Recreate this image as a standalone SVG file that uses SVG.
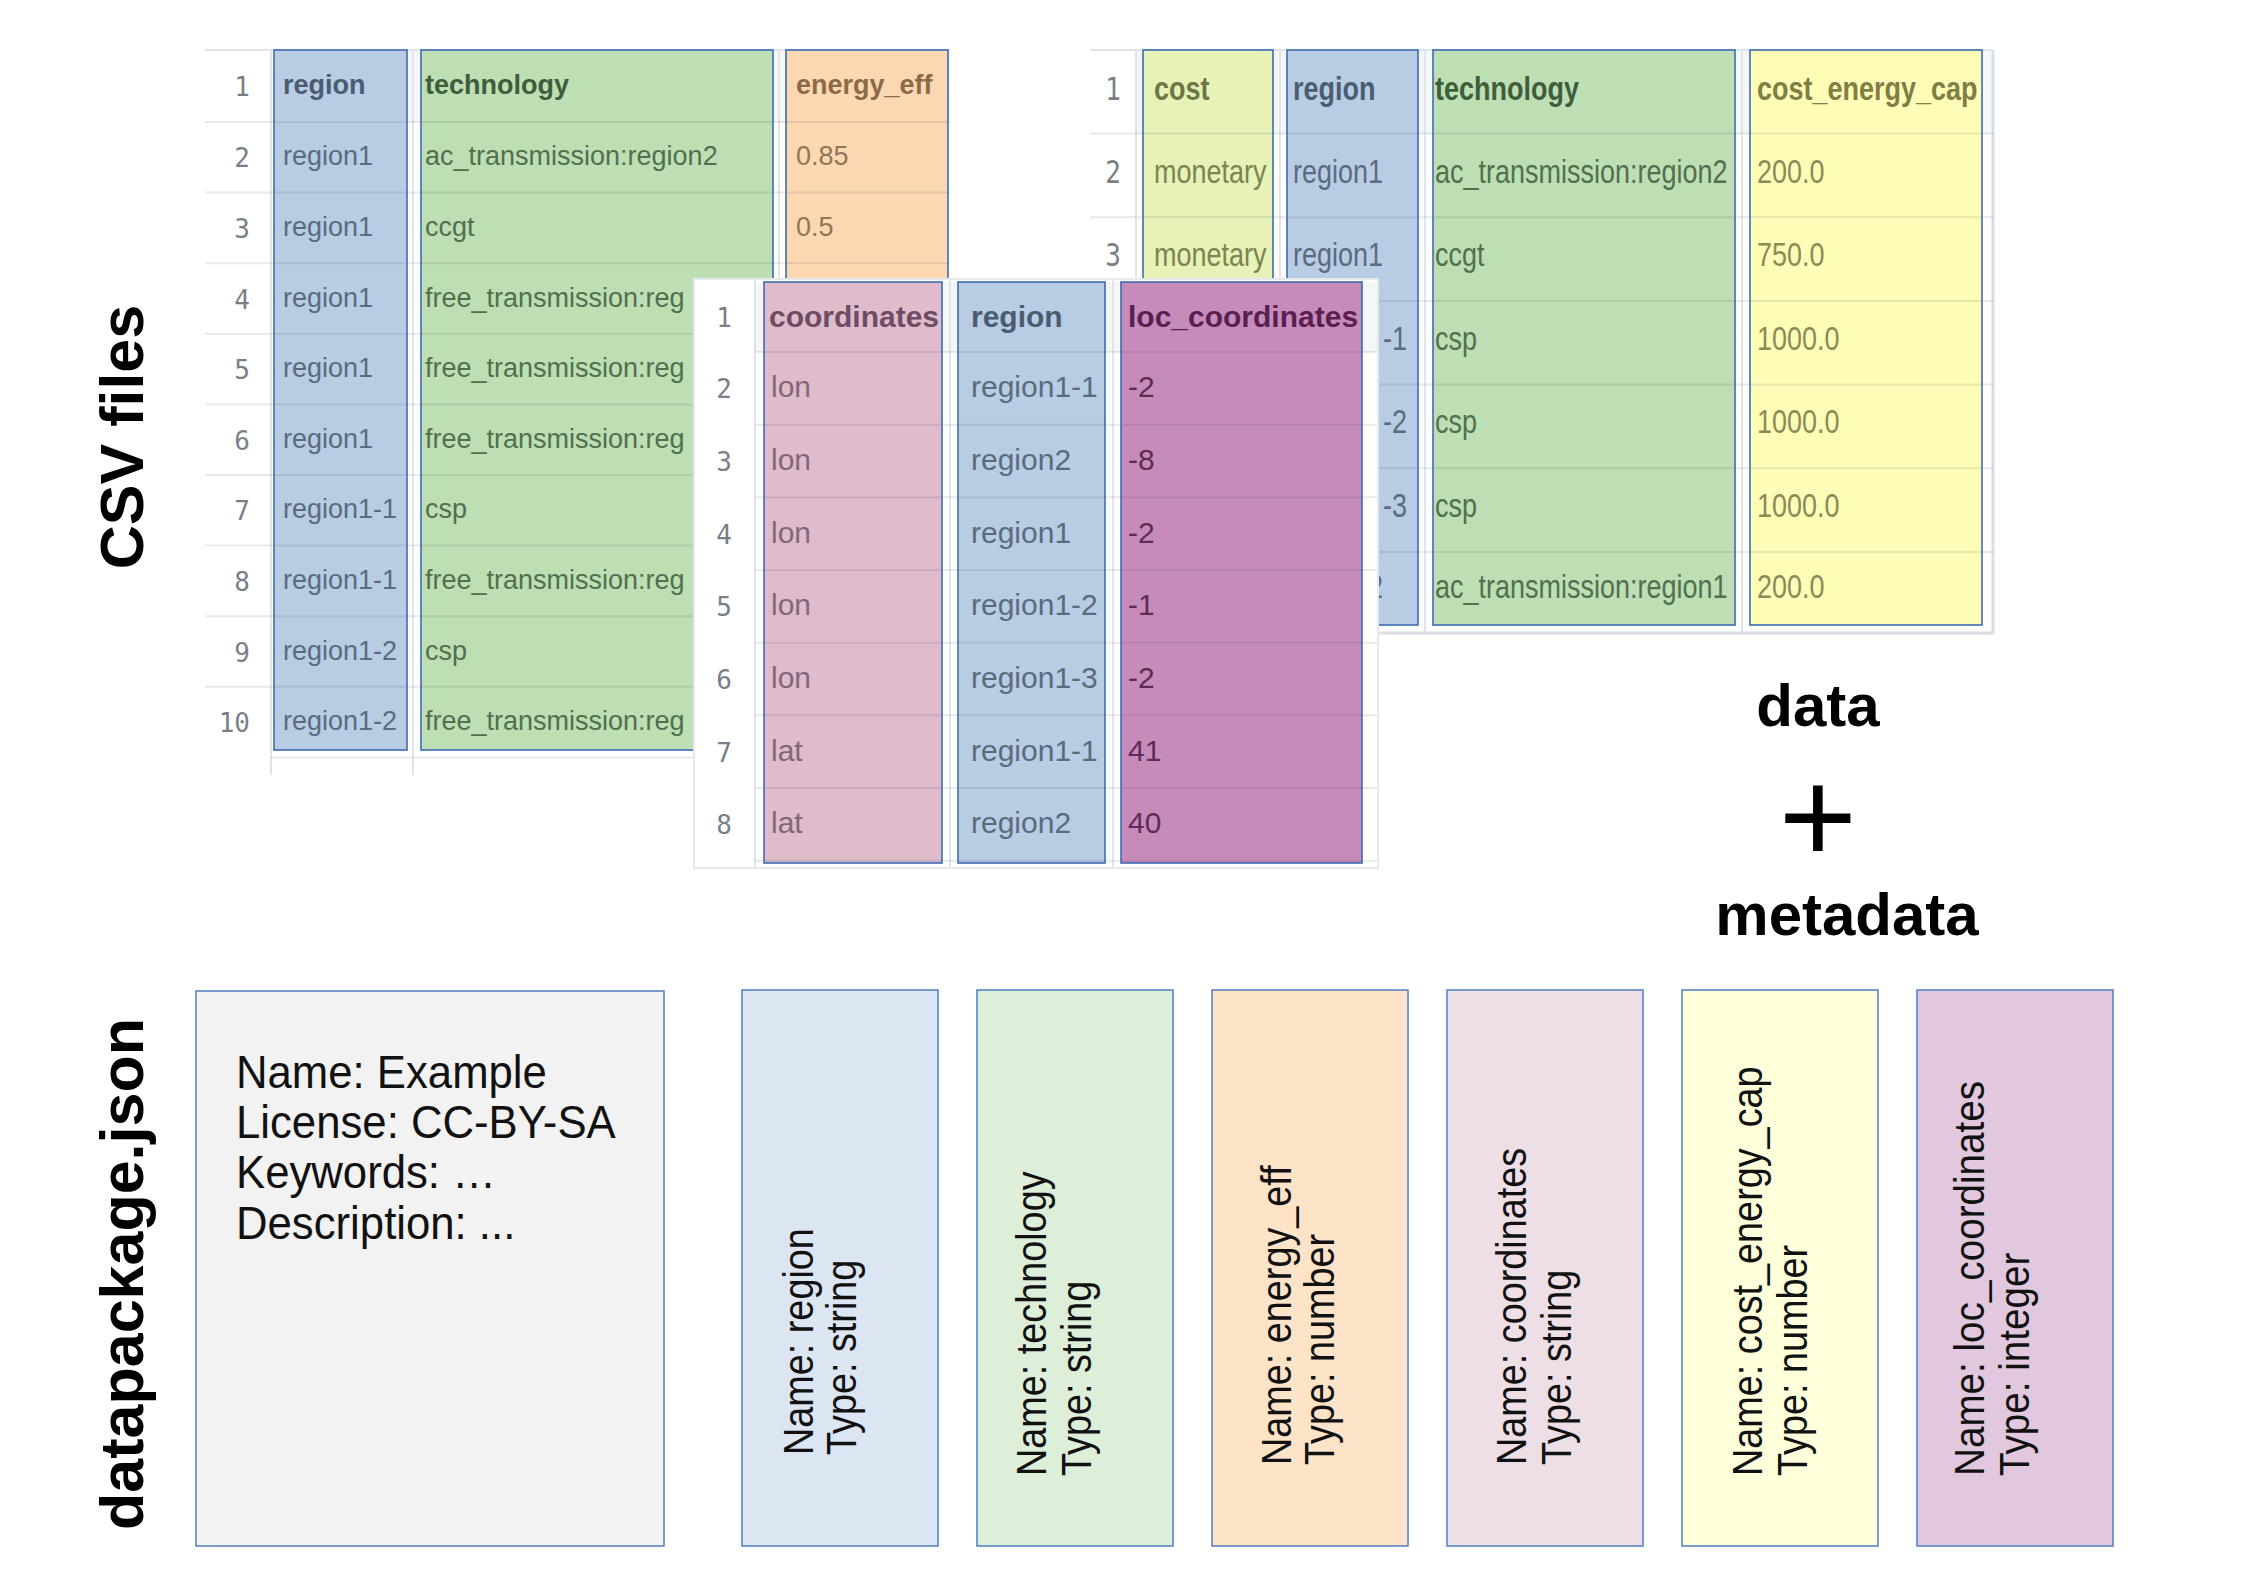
<svg xmlns="http://www.w3.org/2000/svg" width="2245" height="1588" viewBox="0 0 2245 1588">
<style>
.t{font-family:"Liberation Sans",Arial,sans-serif;font-size:27px}
.tc{font-family:"Liberation Sans",Arial,sans-serif;font-size:30px}
.h{font-weight:bold}
.num{font-family:"DejaVu Sans Mono",monospace;font-size:26px;fill:#7a7f87;text-anchor:end}
.grid{stroke:#e1e5ea;stroke-width:2;fill:none}
.border{stroke:#d9dee5;stroke-width:3;fill:none}
.rowl{stroke:#3c465a;stroke-opacity:0.12;stroke-width:2}
.colb{fill:none;stroke:#3d6bb3;stroke-width:1.6}
.hbg{fill:#f5f6f8}
.cBlue{fill:#b8cce4}.cGreen{fill:#bddfb3}.cOrange{fill:#fcd8b2}.cLime{fill:#e6f2b6}.cYellow{fill:#fefdb8}.cPink{fill:#dfbccc}.cPurple{fill:#c78bba}
.xBlue{fill:#5a6b80}.xBlueH{fill:#4b5c72}
.xGreen{fill:#527050}.xGreenH{fill:#3f5d3d}
.xOrange{fill:#8f7658}.xOrangeH{fill:#8c6a48}
.xLime{fill:#7c8450}.xLimeH{fill:#6f7645}
.xYellow{fill:#8c8a55}.xYellowH{fill:#807d45}
.xPink{fill:#83667a}.xPinkH{fill:#6e4c64}
.xPurple{fill:#5e2b58}.xPurpleH{fill:#5a1f52}
.label{font-family:"Liberation Sans",Arial,sans-serif;font-weight:bold;font-size:61px;fill:#000}
.big{font-family:"Liberation Sans",Arial,sans-serif;font-weight:bold;font-size:60px;fill:#000;text-anchor:middle}
.meta{font-family:"Liberation Sans",Arial,sans-serif;font-size:47px;fill:#111}
.fbox{stroke:#5b84c4;stroke-width:1.6}
.ftxt{font-family:"Liberation Sans",Arial,sans-serif;font-size:42px;fill:#111}
</style>

<!-- Side labels -->
<text class="label" text-anchor="middle" transform="translate(143,437) rotate(-90)">CSV files</text>
<text class="label" text-anchor="middle" transform="translate(143,1274) rotate(-90)">datapackage.json</text>

<!-- Table A -->
<g id="table-a">
  <rect class="hbg" x="271" y="50" width="679" height="72"/>
  <line class="grid" x1="205" y1="50" x2="950" y2="50"/>
  <line class="grid" x1="271" y1="50" x2="271" y2="775"/>
  <line class="grid" x1="413" y1="50" x2="413" y2="775"/>
  <line class="grid" x1="779" y1="50" x2="779" y2="775"/>
  <rect class="cBlue" x="274" y="50" width="133" height="700"/>
  <rect class="cGreen" x="421" y="50" width="352" height="700"/>
  <rect class="cOrange" x="786" y="50" width="162" height="700"/>
  <g class="rowl">
    <line x1="205" y1="122" x2="950" y2="122"/>
    <line x1="205" y1="192.6" x2="950" y2="192.6"/>
    <line x1="205" y1="263.2" x2="950" y2="263.2"/>
    <line x1="205" y1="333.8" x2="950" y2="333.8"/>
    <line x1="205" y1="404.4" x2="950" y2="404.4"/>
    <line x1="205" y1="475" x2="950" y2="475"/>
    <line x1="205" y1="545.6" x2="950" y2="545.6"/>
    <line x1="205" y1="616.2" x2="950" y2="616.2"/>
    <line x1="205" y1="686.8" x2="950" y2="686.8"/>
    <line x1="271" y1="757.4" x2="950" y2="757.4"/>
  </g>
  <rect class="colb" x="274" y="50" width="133" height="700"/>
  <rect class="colb" x="421" y="50" width="352" height="700"/>
  <rect class="colb" x="786" y="50" width="162" height="700"/>
  <g>
    <text class="num" x="250" y="96">1</text>
    <text class="num" x="250" y="167">2</text>
    <text class="num" x="250" y="238">3</text>
    <text class="num" x="250" y="309">4</text>
    <text class="num" x="250" y="379">5</text>
    <text class="num" x="250" y="450">6</text>
    <text class="num" x="250" y="520">7</text>
    <text class="num" x="250" y="591">8</text>
    <text class="num" x="250" y="662">9</text>
    <text class="num" x="250" y="732">10</text>
  </g>
  <g class="t xBlue">
    <text class="h xBlueH" x="283" y="94">region</text>
    <text x="283" y="165">region1</text>
    <text x="283" y="236">region1</text>
    <text x="283" y="307">region1</text>
    <text x="283" y="377">region1</text>
    <text x="283" y="448">region1</text>
    <text x="283" y="518">region1-1</text>
    <text x="283" y="589">region1-1</text>
    <text x="283" y="660">region1-2</text>
    <text x="283" y="730">region1-2</text>
  </g>
  <g class="t xGreen">
    <text class="h xGreenH" x="425" y="94">technology</text>
    <text x="425" y="165">ac_transmission:region2</text>
    <text x="425" y="236">ccgt</text>
    <text x="425" y="307">free_transmission:reg</text>
    <text x="425" y="377">free_transmission:reg</text>
    <text x="425" y="448">free_transmission:reg</text>
    <text x="425" y="518">csp</text>
    <text x="425" y="589">free_transmission:reg</text>
    <text x="425" y="660">csp</text>
    <text x="425" y="730">free_transmission:reg</text>
  </g>
  <g class="t xOrange">
    <text class="h xOrangeH" x="796" y="94">energy_eff</text>
    <text x="796" y="165">0.85</text>
    <text x="796" y="236">0.5</text>
  </g>
</g>

<!-- Table B -->
<g id="table-b">
  <rect class="hbg" x="1136" y="50" width="857" height="83.5"/>
  <line class="grid" x1="1090" y1="50" x2="1993" y2="50"/>
  <line class="grid" x1="1136" y1="50" x2="1136" y2="633"/>
  <line class="grid" x1="1280" y1="50" x2="1280" y2="633"/>
  <line class="grid" x1="1425" y1="50" x2="1425" y2="633"/>
  <line class="grid" x1="1742" y1="50" x2="1742" y2="633"/>
  <line class="border" x1="1993" y1="50" x2="1993" y2="634"/>
  <line class="border" x1="1090" y1="633" x2="1994" y2="633"/>
  <rect class="cLime" x="1143" y="50" width="130" height="575"/>
  <rect class="cBlue" x="1287" y="50" width="131" height="575"/>
  <rect class="cGreen" x="1433" y="50" width="302" height="575"/>
  <rect class="cYellow" x="1750" y="50" width="232" height="575"/>
  <g class="rowl">
    <line x1="1090" y1="133.5" x2="1993" y2="133.5"/>
    <line x1="1090" y1="217.2" x2="1993" y2="217.2"/>
    <line x1="1090" y1="300.9" x2="1993" y2="300.9"/>
    <line x1="1090" y1="384.6" x2="1993" y2="384.6"/>
    <line x1="1090" y1="468.3" x2="1993" y2="468.3"/>
    <line x1="1090" y1="552" x2="1993" y2="552"/>
  </g>
  <rect class="colb" x="1143" y="50" width="130" height="575"/>
  <rect class="colb" x="1287" y="50" width="131" height="575"/>
  <rect class="colb" x="1433" y="50" width="302" height="575"/>
  <rect class="colb" x="1750" y="50" width="232" height="575"/>
  <g>
    <text class="num" transform="translate(1121,100) scale(1,1.2)">1</text>
    <text class="num" transform="translate(1121,183) scale(1,1.2)">2</text>
    <text class="num" transform="translate(1121,266) scale(1,1.2)">3</text>
  </g>
  <g class="t xLime">
    <text class="h xLimeH" transform="translate(1154,100) scale(1,1.2)">cost</text>
    <text transform="translate(1154,183) scale(1,1.2)">monetary</text>
    <text transform="translate(1154,266) scale(1,1.2)">monetary</text>
  </g>
  <g class="t xBlue">
    <text class="h xBlueH" transform="translate(1293,100) scale(1,1.2)">region</text>
    <text transform="translate(1293,183) scale(1,1.2)">region1</text>
    <text transform="translate(1293,266) scale(1,1.2)">region1</text>
    <text transform="translate(1383,350) scale(1,1.2)">-1</text>
    <text transform="translate(1383,433) scale(1,1.2)">-2</text>
    <text transform="translate(1383,517) scale(1,1.2)">-3</text>
    <text transform="translate(1368,598) scale(1,1.2)">2</text>
  </g>
  <g class="t xGreen">
    <text class="h xGreenH" transform="translate(1435,100) scale(1,1.2)">technology</text>
    <text transform="translate(1435,183) scale(1,1.2)">ac_transmission:region2</text>
    <text transform="translate(1435,266) scale(1,1.2)">ccgt</text>
    <text transform="translate(1435,350) scale(1,1.2)">csp</text>
    <text transform="translate(1435,433) scale(1,1.2)">csp</text>
    <text transform="translate(1435,517) scale(1,1.2)">csp</text>
    <text transform="translate(1435,598) scale(1,1.2)">ac_transmission:region1</text>
  </g>
  <g class="t xYellow">
    <text class="h xYellowH" transform="translate(1757,100) scale(1,1.2)">cost_energy_cap</text>
    <text transform="translate(1757,183) scale(1,1.2)">200.0</text>
    <text transform="translate(1757,266) scale(1,1.2)">750.0</text>
    <text transform="translate(1757,350) scale(1,1.2)">1000.0</text>
    <text transform="translate(1757,433) scale(1,1.2)">1000.0</text>
    <text transform="translate(1757,517) scale(1,1.2)">1000.0</text>
    <text transform="translate(1757,598) scale(1,1.2)">200.0</text>
  </g>
</g>

<!-- Table C (front) -->
<g id="table-c">
  <rect x="694" y="279" width="684" height="589" fill="#ffffff" stroke="#e6e8ec" stroke-width="2"/>
  <rect class="hbg" x="755" y="282" width="622" height="70"/>
  <line class="grid" x1="755" y1="279" x2="755" y2="868"/>
  <line class="grid" x1="950" y1="279" x2="950" y2="868"/>
  <line class="grid" x1="1113" y1="279" x2="1113" y2="868"/>
  <rect class="cPink" x="764" y="282" width="178" height="581"/>
  <rect class="cBlue" x="958" y="282" width="147" height="581"/>
  <rect class="cPurple" x="1121" y="282" width="241" height="581"/>
  <g class="rowl">
    <line x1="755" y1="352" x2="1377" y2="352"/>
    <line x1="755" y1="424.7" x2="1377" y2="424.7"/>
    <line x1="755" y1="497.3" x2="1377" y2="497.3"/>
    <line x1="755" y1="570" x2="1377" y2="570"/>
    <line x1="755" y1="642.7" x2="1377" y2="642.7"/>
    <line x1="755" y1="715.3" x2="1377" y2="715.3"/>
    <line x1="755" y1="788" x2="1377" y2="788"/>
    <line x1="755" y1="860.7" x2="1377" y2="860.7"/>
  </g>
  <rect class="colb" x="764" y="282" width="178" height="581"/>
  <rect class="colb" x="958" y="282" width="147" height="581"/>
  <rect class="colb" x="1121" y="282" width="241" height="581"/>
  <g>
    <text class="num" x="732" y="327">1</text>
    <text class="num" x="732" y="398">2</text>
    <text class="num" x="732" y="471">3</text>
    <text class="num" x="732" y="544">4</text>
    <text class="num" x="732" y="616">5</text>
    <text class="num" x="732" y="689">6</text>
    <text class="num" x="732" y="762">7</text>
    <text class="num" x="732" y="834">8</text>
  </g>
  <g class="tc xPink">
    <text class="h xPinkH" x="769" y="327">coordinates</text>
    <text x="771" y="397">lon</text>
    <text x="771" y="470">lon</text>
    <text x="771" y="543">lon</text>
    <text x="771" y="615">lon</text>
    <text x="771" y="688">lon</text>
    <text x="771" y="761">lat</text>
    <text x="771" y="833">lat</text>
  </g>
  <g class="tc xBlue">
    <text class="h xBlueH" x="971" y="327">region</text>
    <text x="971" y="397">region1-1</text>
    <text x="971" y="470">region2</text>
    <text x="971" y="543">region1</text>
    <text x="971" y="615">region1-2</text>
    <text x="971" y="688">region1-3</text>
    <text x="971" y="761">region1-1</text>
    <text x="971" y="833">region2</text>
  </g>
  <g class="tc xPurple">
    <text class="h xPurpleH" x="1128" y="327">loc_coordinates</text>
    <text x="1128" y="397">-2</text>
    <text x="1128" y="470">-8</text>
    <text x="1128" y="543">-2</text>
    <text x="1128" y="615">-1</text>
    <text x="1128" y="688">-2</text>
    <text x="1128" y="761">41</text>
    <text x="1128" y="833">40</text>
  </g>
</g>

<!-- data + metadata -->
<g id="data-metadata">
  <text class="big" x="1818" y="726">data</text>
  <text x="1818" y="863" text-anchor="middle" font-family="Liberation Sans, Arial, sans-serif" font-size="134" fill="#000">+</text>
  <text class="big" x="1847" y="935">metadata</text>
</g>

<!-- Package metadata box -->
<g id="package-box">
  <rect x="196" y="991" width="468" height="555" fill="#f2f2f2" stroke="#5b84c4" stroke-width="1.6"/>
  <g transform="translate(236,0) scale(0.93,1)">
    <text class="meta" x="0" y="1088">Name: Example</text>
    <text class="meta" x="0" y="1138">License: CC-BY-SA</text>
    <text class="meta" x="0" y="1188">Keywords: …</text>
    <text class="meta" x="0" y="1239">Description: ...</text>
  </g>
</g>

<!-- Field boxes -->
<g id="field-region">
  <rect class="fbox" x="742" y="990" width="196" height="556" fill="#dce6f2"/>
  <text class="ftxt" transform="translate(813,1455) rotate(-90) scale(0.9,1)">Name: region</text>
  <text class="ftxt" transform="translate(856,1455) rotate(-90) scale(0.9,1)">Type: string</text>
</g>
<g id="field-technology">
  <rect class="fbox" x="977" y="990" width="196" height="556" fill="#ddeed9"/>
  <text class="ftxt" transform="translate(1046,1476) rotate(-90) scale(0.9,1)">Name: technology</text>
  <text class="ftxt" transform="translate(1091,1476) rotate(-90) scale(0.9,1)">Type: string</text>
</g>
<g id="field-energy_eff">
  <rect class="fbox" x="1212" y="990" width="196" height="556" fill="#fde4c9"/>
  <text class="ftxt" transform="translate(1291,1465) rotate(-90) scale(0.9,1)">Name: energy_eff</text>
  <text class="ftxt" transform="translate(1334,1465) rotate(-90) scale(0.9,1)">Type: number</text>
</g>
<g id="field-coordinates">
  <rect class="fbox" x="1447" y="990" width="196" height="556" fill="#eedfe7"/>
  <text class="ftxt" transform="translate(1526,1465) rotate(-90) scale(0.9,1)">Name: coordinates</text>
  <text class="ftxt" transform="translate(1571,1465) rotate(-90) scale(0.9,1)">Type: string</text>
</g>
<g id="field-cost_energy_cap">
  <rect class="fbox" x="1682" y="990" width="196" height="556" fill="#ffffdc"/>
  <text class="ftxt" transform="translate(1762,1476) rotate(-90) scale(0.9,1)">Name: cost_energy_cap</text>
  <text class="ftxt" transform="translate(1807,1476) rotate(-90) scale(0.9,1)">Type: number</text>
</g>
<g id="field-loc_coordinates">
  <rect class="fbox" x="1917" y="990" width="196" height="556" fill="#e2c8de"/>
  <text class="ftxt" transform="translate(1984,1476) rotate(-90) scale(0.92,1)">Name: loc_coordinates</text>
  <text class="ftxt" transform="translate(2029,1476) rotate(-90) scale(0.92,1)">Type: integer</text>
</g>

<g id="connectors"></g>
</svg>
